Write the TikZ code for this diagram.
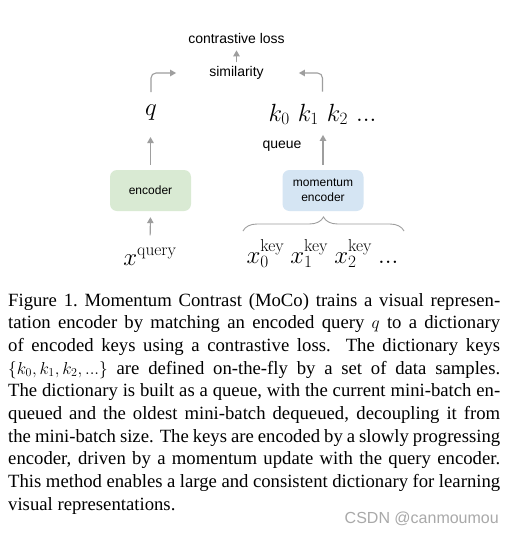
\documentclass[tikz,border=0pt]{standalone}
\usepackage[no-math]{fontspec}
\setmainfont{Liberation Serif}
\newfontfamily\diagfont{Liberation Sans}
\usetikzlibrary{arrows.meta,decorations.pathreplacing}

\definecolor{encgreen}{HTML}{D9EAD3}
\definecolor{encblue}{HTML}{D5E5F3}
\definecolor{arrgray}{HTML}{9E9E9E}
\definecolor{markgray}{HTML}{A9A9A9}

\begin{document}
\begin{tikzpicture}[x=1pt, y=-1pt,
        lbl/.style={font=\diagfont\fontsize{14}{16}\selectfont, inner sep=0pt},
        encbox/.style={rounded corners=7pt, minimum width=81pt, minimum height=41pt,
            align=center, inner sep=0pt, font=\diagfont\fontsize{12}{15}\selectfont},
        sym/.style={font=\fontsize{24}{28}\selectfont, inner sep=0pt},
        arr/.style={draw=arrgray, line width=1.1pt, rounded corners=5pt,
            -{Triangle[length=6pt, width=6.5pt]}},
    ]
    \fill[white] (0,0) rectangle (514,533);
    \useasboundingbox (0,0) rectangle (514,533);

    \node[lbl] (loss) at (236.5, 38) {contrastive loss};
    \node[lbl] (sim)  at (236.5, 73) {similarity};
    \node[sym, anchor=base] (q)    at (151, 115) {$q$};
    \node[sym, anchor=base] (keys) at (322.5, 121)
        {$k_0\ \mkern1.5mu k_1\ \mkern1.5mu k_2\ \mkern1.5mu ...$};
    \node[lbl] (queue) at (282, 146) {queue};
    \node[encbox, fill=encgreen] (enc)  at (150.5, 190.5) {encoder};
    \node[encbox, fill=encblue]  (menc) at (323, 190.5) {momentum\\encoder};
    \node[sym, anchor=base] (xq)    at (150, 265) {$x^{\mathrm{query}}$};
    \node[sym, anchor=base] (xkeys) at (322.5, 263)
        {$x_0^{\mathrm{key}}\ x_1^{\mathrm{key}}\ x_2^{\mathrm{key}}\ ...$};
    \coordinate (bl) at (243, 231);
    \coordinate (br) at (404, 231);

    \draw[arr, shorten <=4pt, shorten >=7pt] (sim.north) -- (loss.south);
    \draw[arr, shorten <=12pt, shorten >=33pt] (q.north) |- (sim.west);
    \draw[arr, shorten <=12pt, shorten >=35pt] (keys.north) |- (sim.east);
    \draw[arr, shorten <=5pt, shorten >=17pt] (enc.north) -- (enc.north |- q.south);
    \draw[arr, shorten <=5pt, shorten >=10pt] (menc.north) -- (menc.north |- keys.south);
    \draw[arr, shorten <=13pt, shorten >=6pt] (xq.north) -- (enc.south);
    \draw[arrgray, line width=0.9pt, decorate,
        decoration={brace, amplitude=14pt}] (bl) -- (br);

    \node[anchor=base west, inner sep=0pt, text width=492pt, align=justify,
        font=\fontsize{18.7}{22.7}\selectfont] (caption) at (8, 306)
        {\hyphenpenalty=10000\exhyphenpenalty=10000
        Figure 1.\ Momentum Contrast (MoCo) trains a visual represen-\linebreak
        tation encoder by matching an encoded query $q$ to a dictionary\linebreak
        of encoded keys using a contrastive loss.  The dictionary keys\linebreak
        $\{k_0, k_1, k_2, ...\}$ are defined on-the-fly by a set of data samples.\linebreak
        The dictionary is built as a queue, with the current mini-batch en-\linebreak
        queued and the oldest mini-batch dequeued, decoupling it from\linebreak
        the mini-batch size. The keys are encoded by a slowly progressing\linebreak
        encoder, driven by a momentum update with the query encoder.\linebreak
        This method enables a large and consistent dictionary for learning\linebreak
        visual representations.};
    \node[anchor=base east, inner sep=0pt, text=markgray,
        font=\diagfont\fontsize{16}{18}\selectfont] (mark) at (499, 523) {CSDN @canmoumou};
\end{tikzpicture}
\end{document}
